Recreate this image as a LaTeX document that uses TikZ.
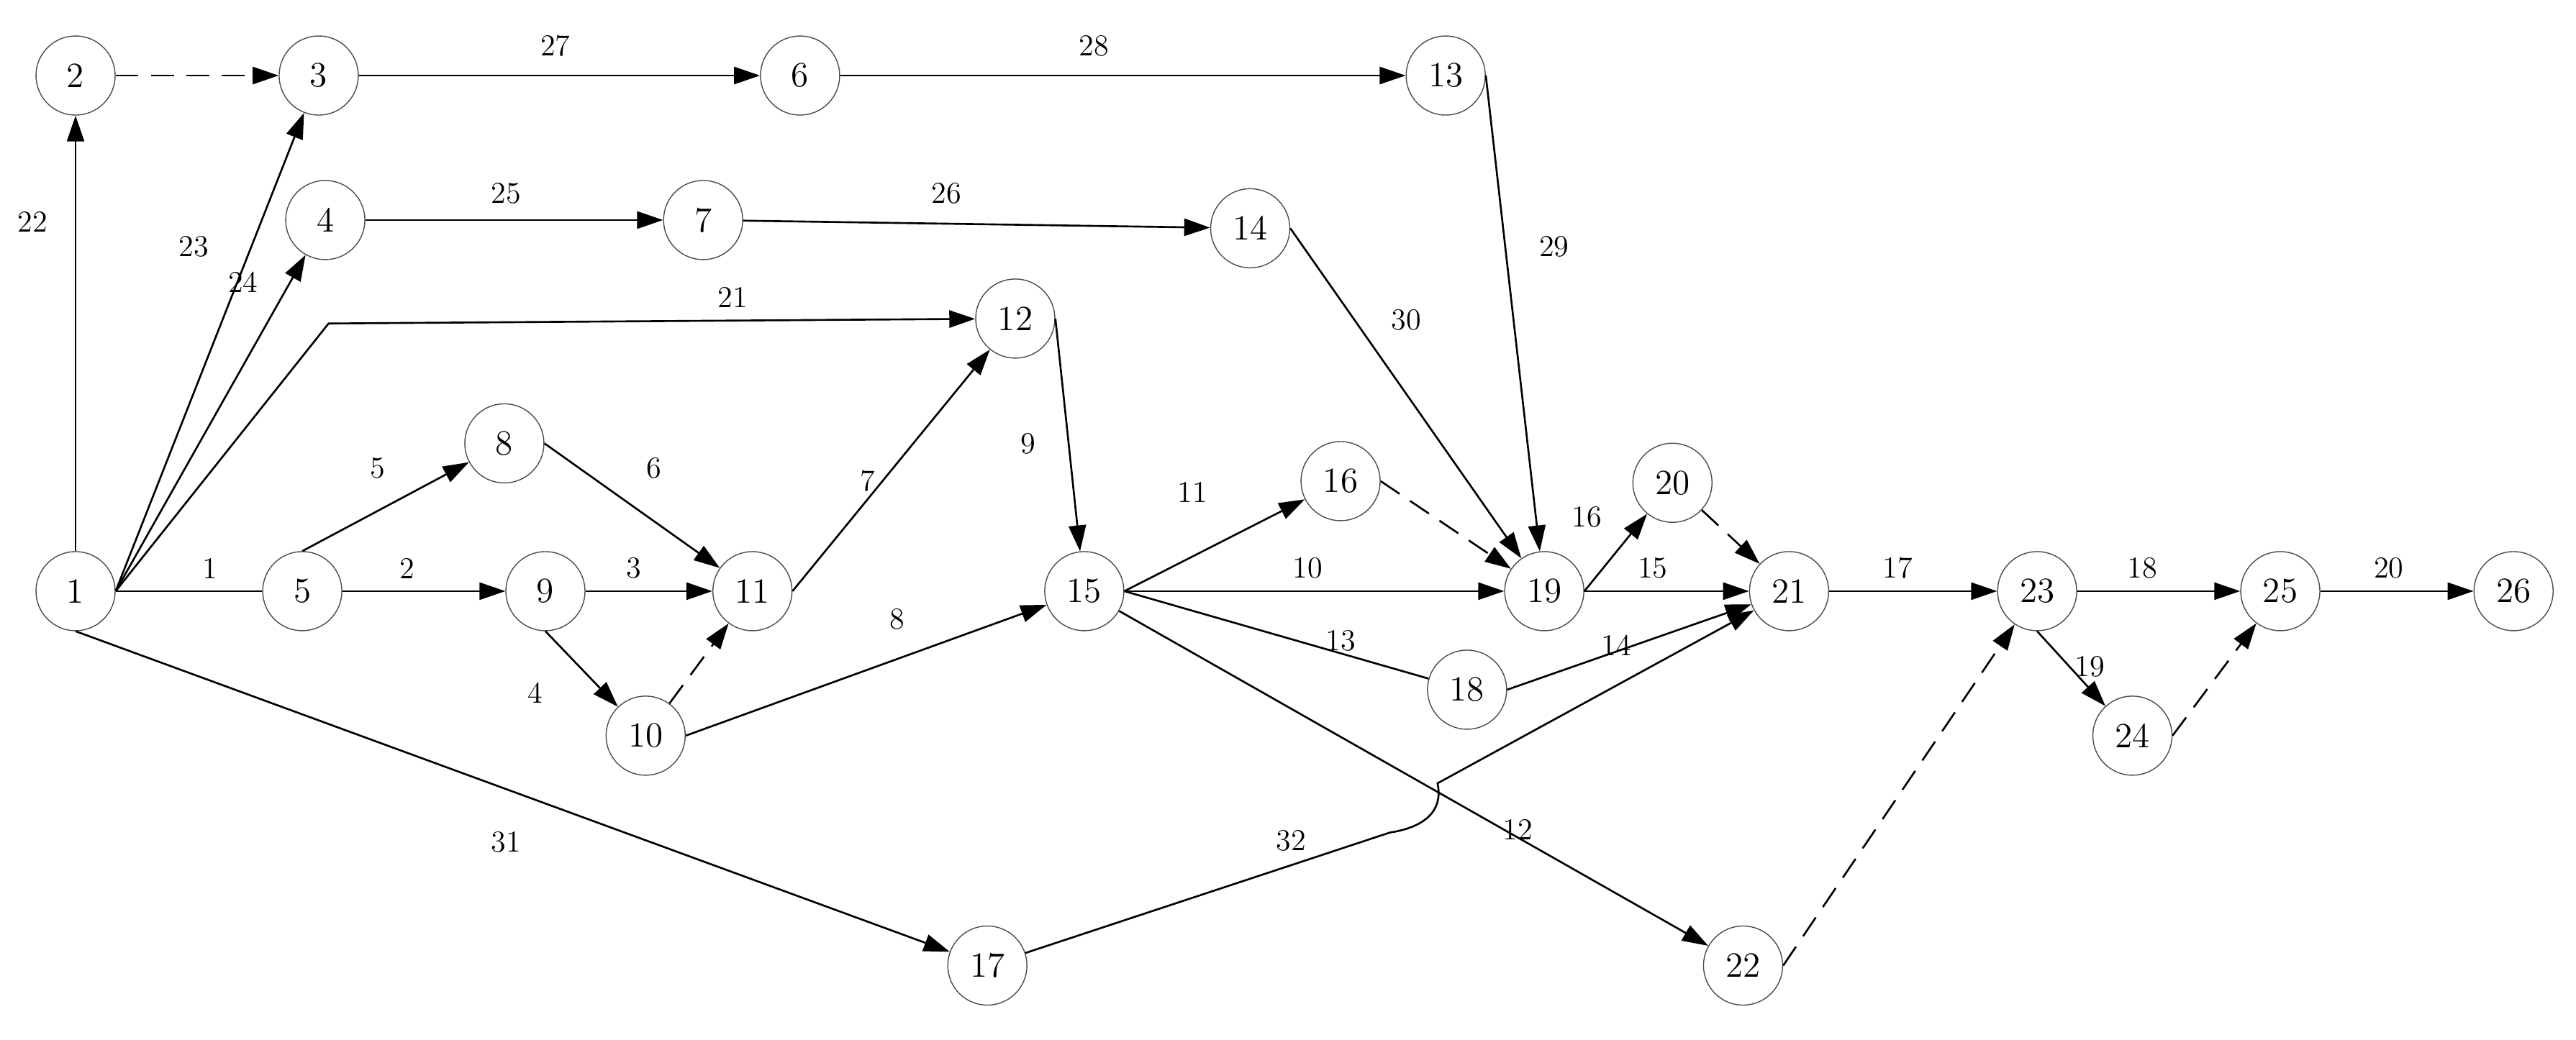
\documentclass[tikz,border=0pt]{standalone}
\usetikzlibrary{arrows.meta}
\begin{document}
\begin{tikzpicture}[x=0.02283cm,y=-0.02283cm]
    \tikzstyle{ev}=[circle, draw=black!70, thin, minimum size=1.1cm, inner sep=0pt,
                    font=\fontsize{14}{16}\selectfont]
    \tikzstyle{act}=[line width=0.75pt, -{Triangle[length=3.6mm,width=2.4mm]}]
    \tikzstyle{dum}=[act, dash pattern=on 9pt off 5pt]
    \tikzstyle{lbl}=[font=\fontsize{12}{14}\selectfont]
    \useasboundingbox (0,0) rectangle (1568,633);

    % events
    \foreach \n/\x/\y in {1/46/360, 2/46/46, 3/194/46, 4/198/134, 5/184/360,
        6/487/46, 7/428/134, 8/307/270, 9/332/360, 10/393/448, 11/458/360,
        12/618/194, 13/880/46, 14/761/139, 15/660/360, 16/816/293, 17/601/588,
        18/893/420, 19/940/360, 20/1018/294, 21/1089/360, 22/1061/588,
        23/1240/360, 24/1298/448, 25/1388/360, 26/1530/360}
        \node [ev] (n\n) at (\x,\y) {\n};

    \coordinate (bend) at (200,197);
    \coordinate (hopa) at (846,507);
    \coordinate (hopb) at (875,477);

    % activities
    \draw [act] (n1.north) -- (n2);
    \draw [dum] (n2) -- (n3);
    \draw [act] (n1.east) -- (n3);
    \draw [act] (n1.east) -- (n4);
    \draw [act] (n1.east) -- (bend) -- (n12);
    \draw [line width=0.75pt] (n1.east) -- (n5);
    \draw [act] (n5.north) -- (n8);
    \draw [act] (n5) -- (n9);
    \draw [act] (n8.east) -- (n11);
    \draw [act] (n9) -- (n11);
    \draw [act] (n9.south) -- (n10);
    \draw [dum] (n10) -- (n11);
    \draw [act] (n11.east) -- (n12);
    \draw [act] (n10.east) -- (n15);
    \draw [act] (n12.east) -- (n15);
    \draw [act] (n3) -- (n6);
    \draw [act] (n6) -- (n13);
    \draw [act] (n4) -- (n7);
    \draw [act] (n7) -- (n14);
    \draw [act] (n13.east) -- (n19);
    \draw [act] (n14.east) -- (n19);
    \draw [act] (n15.east) -- (n16);
    \draw [act] (n15) -- (n19);
    \draw [line width=0.75pt] (n15.east) -- (n18);
    \draw [act] (n15) -- (n22);
    \draw [dum] (n16.east) -- (n19);
    \draw [act] (n19.east) -- (n20);
    \draw [act] (n19) -- (n21);
    \draw [dum] (n20) -- (n21);
    \draw [act] (n18.east) -- (n21);
    \draw [act] (n17) -- (hopa) .. controls (872,503) and (878,490) .. (hopb) -- (n21);
    \draw [act] (n1.south) -- (n17);
    \draw [act] (n21) -- (n23);
    \draw [dum] (n22.east) -- (n23);
    \draw [act] (n23) -- (n25);
    \draw [act] (n23.south) -- (n24);
    \draw [dum] (n24.east) -- (n25);
    \draw [act] (n25) -- (n26);

    % durations
    \foreach \t/\x/\y in {22/20/135, 23/118/150, 24/148/172, 21/446/181, 1/128/346,
        5/230/285, 2/248/346, 6/398/285, 3/386/346, 4/326/422, 7/528/293, 8/546/377,
        9/626/270, 27/338/28, 28/666/28, 25/308/118, 26/576/118, 29/946/150,
        30/856/195, 11/726/300, 10/796/346, 13/816/390, 12/924/505, 16/966/315,
        15/1006/346, 14/984/393, 32/786/512, 31/308/513, 17/1155/346, 18/1304/346,
        19/1272/406, 20/1454/346}
        \node [lbl] (d\t) at (\x,\y) {\t};
\end{tikzpicture}
\end{document}
